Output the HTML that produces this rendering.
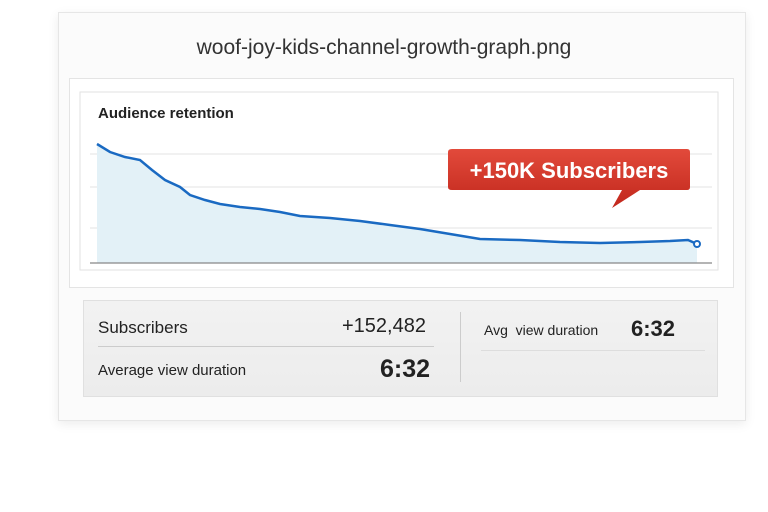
<!DOCTYPE html>
<html><head><style>
body{margin:0;width:768px;height:512px;background:#fff;font-family:"Liberation Sans",sans-serif;position:relative;overflow:hidden}
.card{position:absolute;left:58px;top:12px;width:686px;height:407px;background:#fbfbfb;border:1px solid #e6e6e6;box-shadow:0 3px 10px rgba(0,0,0,0.08)}
.title{position:absolute;left:0;width:768px;top:36px;text-align:center;font-size:21px;color:#333}
.panel{position:absolute;left:69px;top:78px;width:663px;height:208px;background:#fff;border:1px solid #e4e4e4}
.stats{position:absolute;left:83px;top:300px;width:633px;height:95px;background:linear-gradient(#f2f2f2,#ececec);border:1px solid #e0e0e0}
.t{position:absolute;color:#222}
</style></head><body>
<div class="card"></div>
<div class="title">woof-joy-kids-channel-growth-graph.png</div>
<div class="panel"></div>
<svg style="position:absolute;left:0;top:0" width="768" height="512">
<rect x="80" y="92" width="638" height="178" fill="#fff" stroke="#e2e2e2"/>
<line x1="90" y1="154" x2="712" y2="154" stroke="#e3e3e3"/>
<line x1="90" y1="187" x2="712" y2="187" stroke="#e3e3e3"/>
<line x1="90" y1="228" x2="712" y2="228" stroke="#e3e3e3"/>
<path d="M97,144 L110,152 125,157 140,160 152,170 165,180 180,187 190,195 205,200 220,204 240,207 260,209 280,212 300,216 330,218 360,221 390,225 420,229 450,234 480,239 520,240 560,242 600,243 640,242 670,241 688,240 697,244 L697,263 L97,263 Z" fill="#e3f1f7"/>
<polyline points="97,144 110,152 125,157 140,160 152,170 165,180 180,187 190,195 205,200 220,204 240,207 260,209 280,212 300,216 330,218 360,221 390,225 420,229 450,234 480,239 520,240 560,242 600,243 640,242 670,241 688,240 697,244" fill="none" stroke="#1a6ac2" stroke-width="2.5"/>
<circle cx="697" cy="244" r="3" fill="#fff" stroke="#1a6ac2" stroke-width="2"/>
<line x1="90" y1="263" x2="712" y2="263" stroke="#888" stroke-width="1.2"/>
<defs><linearGradient id="r" x1="0" y1="0" x2="0" y2="1"><stop offset="0" stop-color="#e24a3b"/><stop offset="1" stop-color="#c1271c"/></linearGradient></defs>
<path d="M452,149 H687 Q690,149 690,152 V187 Q690,190 687,190 H640 L612,208 L622,190 H452 Q448,190 448,187 V152 Q448,149 452,149 Z" fill="url(#r)"/>
<text x="569" y="178" text-anchor="middle" font-size="22" font-weight="bold" fill="#fff" font-family="Liberation Sans">+150K Subscribers</text>
</svg>
<div class="t" style="left:98px;top:105px;font-size:15px;font-weight:bold">Audience retention</div>
<div class="stats"></div>
<div class="t" style="left:98px;top:318px;font-size:17px">Subscribers</div>
<div class="t" style="left:342px;top:315px;font-size:20px">+152,482</div>
<div style="position:absolute;left:98px;top:346px;width:336px;height:1px;background:#ccc"></div>
<div class="t" style="left:98px;top:362px;font-size:15px">Average view duration</div>
<div class="t" style="left:380px;top:355px;font-size:25px;font-weight:bold">6:32</div>
<div style="position:absolute;left:460px;top:312px;width:1px;height:70px;background:#ccc"></div>
<div class="t" style="left:484px;top:322px;font-size:14px">Avg&nbsp; view duration</div>
<div class="t" style="left:631px;top:316px;font-size:22px;font-weight:bold">6:32</div>
<div style="position:absolute;left:481px;top:350px;width:224px;height:1px;background:#ddd"></div>
</body></html>
